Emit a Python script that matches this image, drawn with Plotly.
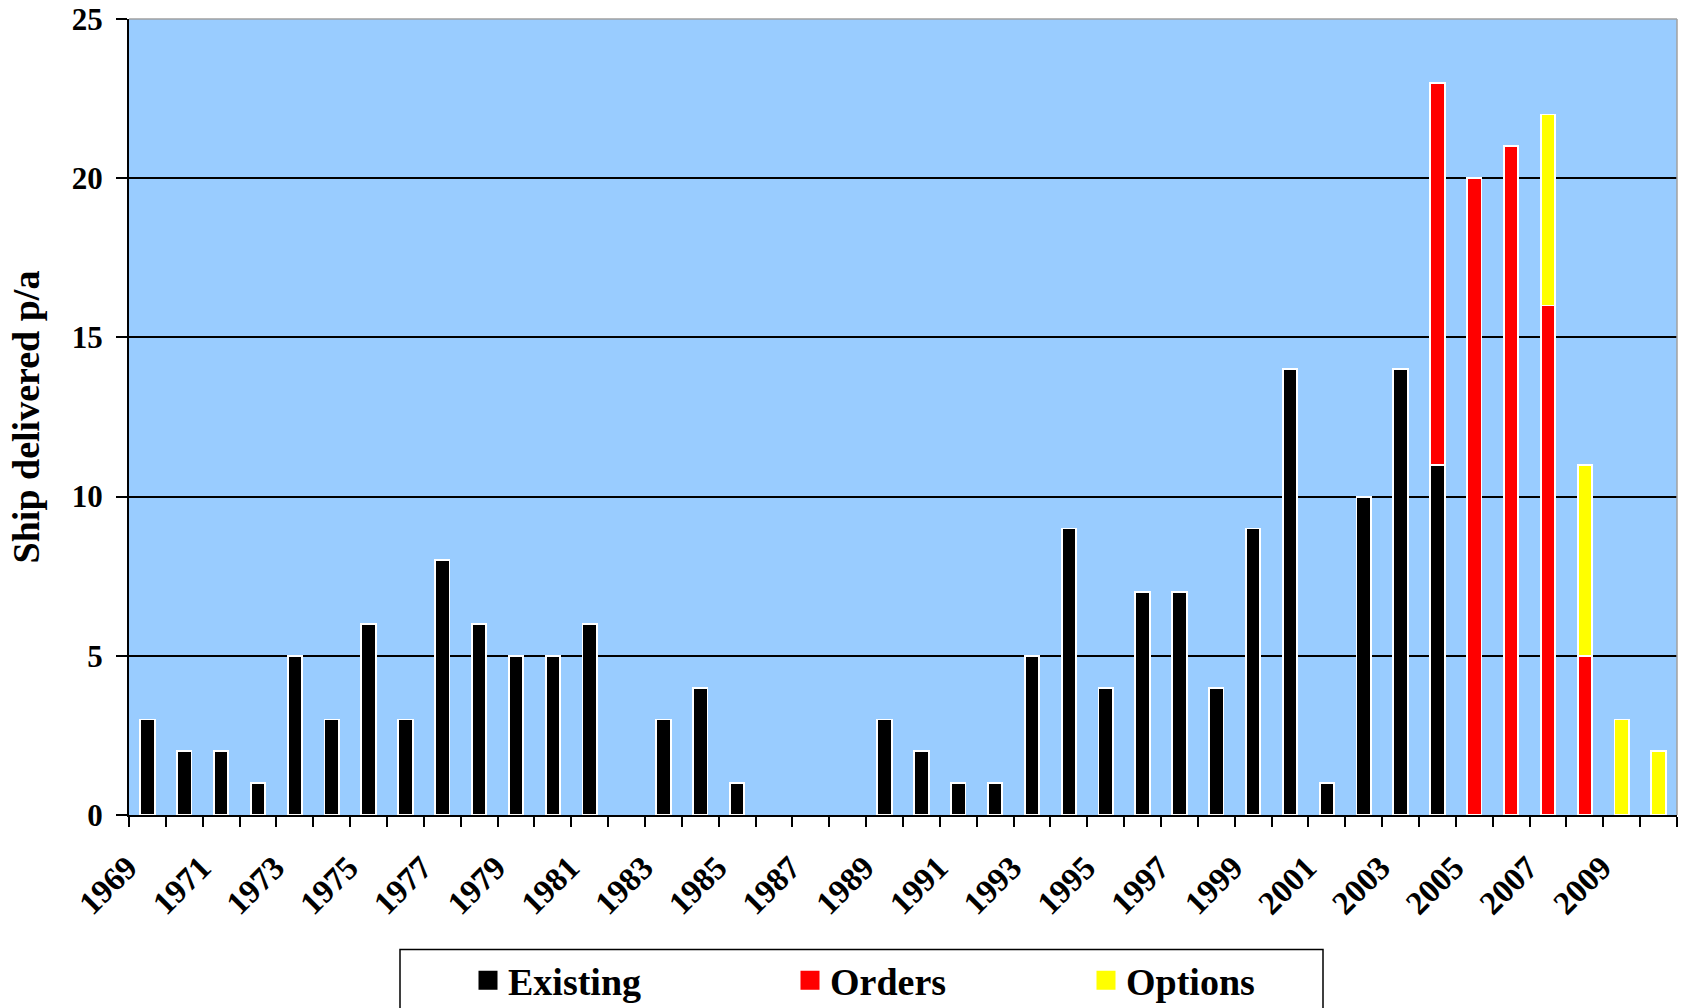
import plotly.graph_objects as go

# Ships delivered per year, split by status
years = list(range(1969, 2011))
existing = [3, 2, 2, 1, 5, 3, 6, 3, 8, 6, 5, 5, 6, 0, 3, 4, 1, 0, 0, 0,
            3, 2, 1, 1, 5, 9, 4, 7, 7, 4, 9, 14, 1, 10, 14, 11, 0, 0, 0, 0, 0, 0]
orders = [0] * 35 + [12, 20, 21, 16, 5, 0, 0]
options = [0] * 38 + [6, 6, 3, 2]

series_names = ["Existing", "Orders", "Options"]
series_colors = ["#000000", "#FF0000", "#FFFF00"]
tick_years = list(range(1969, 2010, 2))
y_ticks = [0, 5, 10, 15, 20, 25]

W, H = 1685, 1008
L, R, T, B = 129, 8, 19, 193
plot_w = W - L - R
plot_h = H - T - B

FONT = "Liberation Serif"


def px_x(p):
    return (p - L) / plot_w


def px_y(p):
    return (H - B - p) / plot_h


fig = go.Figure()
for name, vals, col in zip(series_names, [existing, orders, options], series_colors):
    fig.add_trace(go.Bar(
        x=years, y=[v if v else None for v in vals], name=name, showlegend=False,
        marker=dict(color=col, line=dict(color="white", width=1.8)),
    ))

# one legend per series so each swatch sits at its own spot in the key box
legend_ids = ["legend", "legend2", "legend3"]
legend_x = [468, 790, 1086]
for name, col, lid in zip(series_names, series_colors, legend_ids):
    fig.add_trace(go.Scatter(
        x=[None], y=[None], name=name, mode="markers", legend=lid,
        marker=dict(symbol="square", size=16, color=col,
                    line=dict(color=col, width=3)),
    ))

legend_layout = {}
for lid, lx in zip(legend_ids, legend_x):
    legend_layout[lid] = dict(
        x=px_x(lx), xanchor="left",
        y=px_y(980.5), yanchor="middle",
        font=dict(family=FONT, size=38, color="black", weight="bold"),
        bgcolor="rgba(0,0,0,0)", borderwidth=0,
    )

fig.update_layout(
    width=W, height=H,
    margin=dict(l=L, r=R, t=T, b=B, autoexpand=False),
    paper_bgcolor="white",
    plot_bgcolor="#99CCFF",
    barmode="stack",
    bargap=0.61,
    font=dict(family=FONT, size=30, color="black", weight="bold"),
    showlegend=True,
    **legend_layout,
    xaxis=dict(
        range=[1968.5, 2010.5],
        tickmode="array",
        tickvals=tick_years,
        ticktext=[str(y) for y in tick_years],
        tickangle=-45,
        ticks="",
        ticklabelstandoff=18,
        ticklabelshift=-20,
        tickfont=dict(family=FONT, size=33, color="black", weight="bold"),
        showline=True, linecolor="black", linewidth=2,
        showgrid=False, zeroline=False,
        minor=dict(
            tickmode="linear", tick0=1968.5, dtick=1,
            ticks="outside", ticklen=10, tickwidth=2, tickcolor="black",
            showgrid=False,
        ),
    ),
    yaxis=dict(
        range=[0, 25],
        tickmode="array",
        tickvals=y_ticks,
        ticks="outside", ticklen=11, tickwidth=2, tickcolor="black",
        ticklabelstandoff=7,
        tickfont=dict(family=FONT, size=31, color="black", weight="bold"),
        showline=True, linecolor="black", linewidth=2,
        showgrid=True, gridcolor="black", gridwidth=1.5,
        zeroline=False,
        title=dict(text="Ship delivered p/a",
                   font=dict(family=FONT, size=38, color="black", weight="bold"),
                   standoff=20),
    ),
    shapes=[
        # plot frame top and right edges
        dict(type="line", xref="paper", yref="paper", x0=0, x1=1, y0=1, y1=1,
             line=dict(color="#A0A0A0", width=1.5), layer="above"),
        dict(type="line", xref="paper", yref="paper", x0=1, x1=1, y0=0, y1=1,
             line=dict(color="#A0A0A0", width=1.5), layer="above"),
        # key box
        dict(type="rect", xref="paper", yref="paper",
             x0=px_x(400), x1=px_x(1323), y0=px_y(949.5), y1=px_y(1030),
             line=dict(color="black", width=1.5), fillcolor="rgba(0,0,0,0)"),
    ],
)

fig.write_html("out.html")
